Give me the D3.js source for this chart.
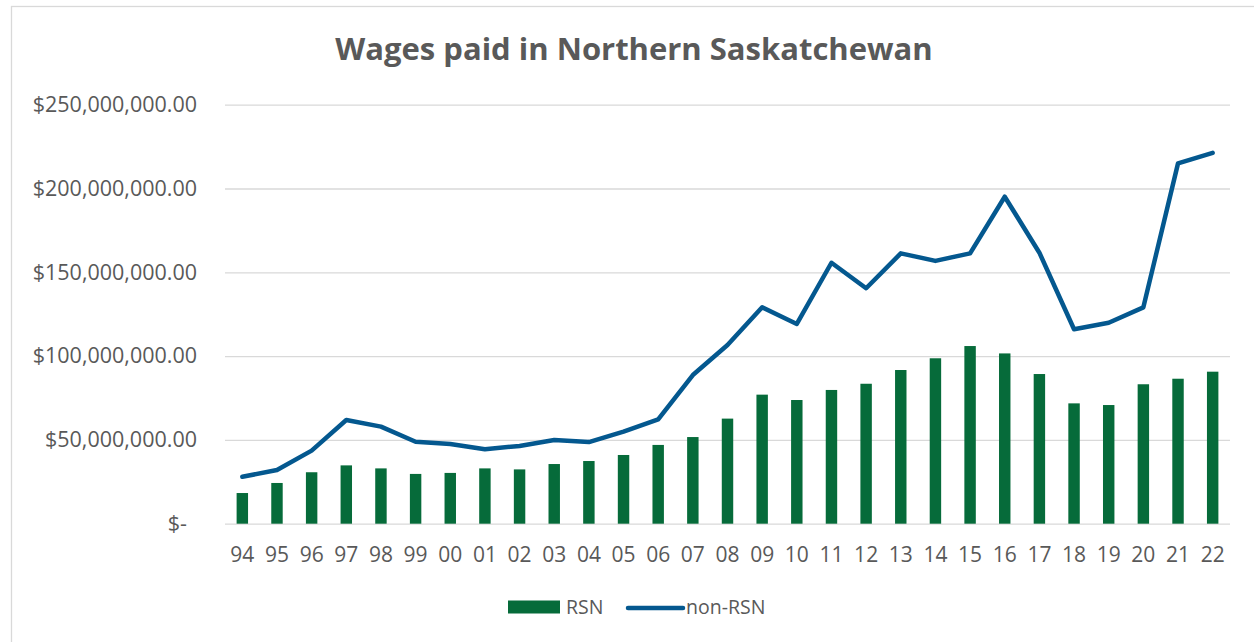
<!DOCTYPE html>
<html>
<head>
<meta charset="utf-8">
<script src="https://cdn.jsdelivr.net/npm/d3@7"></script>
<style>
  body { margin: 0; background: #fff; }
  svg { display: block; }
  text { font-family: "Open Sans", "Noto Sans", sans-serif; fill: #595959; }
</style>
</head>
<body>
<div class="chart"></div>
<script>
// years on the category axis
const years = ["94","95","96","97","98","99","00","01","02","03","04","05","06","07",
    "08","09","10","11","12","13","14","15","16","17","18","19","20","21","22"];

// wages in millions of dollars
const rsn = [18.3, 24.3, 30.7, 34.8, 33.0, 29.7, 30.3, 33.0, 32.4, 35.6, 37.4, 41.0, 47.0, 51.7,
    62.7, 77.0, 73.8, 79.8, 83.5, 91.7, 98.7, 106.0, 101.6, 89.3, 71.8, 70.8, 83.2, 86.5, 90.7];

const nonRsn = [28.0, 32.0, 43.6, 61.9, 57.9, 48.9, 47.5, 44.4, 46.4, 49.9, 48.7, 54.9, 62.3, 88.7,
    106.6, 129.1, 119.2, 155.7, 140.5, 161.3, 156.8, 161.3, 195.1, 161.7, 116.0, 119.9, 129.1, 215.0, 221.3];

const yTicks = [0, 50, 100, 150, 200, 250];

const title = "Wages paid in Northern Saskatchewan";

const W = 1254, H = 642;
const margin = { top: 104.7, right: 24, bottom: 118.3, left: 225 };
const width = W - margin.left - margin.right;
const height = H - margin.top - margin.bottom;

const green = "#066B3A";
const blue = "#04588F";

const svg = d3.select(".chart")
    .append("svg")
    .attr("width", W)
    .attr("height", H);

// outer chart border (cropped at right/bottom)
svg.append("rect")
    .attr("x", 11.5)
    .attr("y", 6.5)
    .attr("width", 1300)
    .attr("height", 700)
    .attr("fill", "none")
    .attr("stroke", "#D9D9D9")
    .attr("stroke-width", 1.3);

svg.append("text")
    .attr("x", 634)
    .attr("y", 60)
    .attr("text-anchor", "middle")
    .style("font-size", "31px")
    .style("font-weight", "bold")
    .text(title);

const g = svg.append("g")
    .attr("transform", `translate(${margin.left},${margin.top})`);

const x = d3.scaleBand()
    .domain(years)
    .range([0, width])
    .paddingInner(0.67)
    .paddingOuter(0.335);

const y = d3.scaleLinear()
    .domain([0, 250])
    .range([height, 0]);

const money = d3.format(",.2f");

const yAxis = g.append("g")
    .call(d3.axisLeft(y)
        .tickValues(yTicks)
        .tickSize(-width)
        .tickPadding(28)
        .tickFormat(d => d === 0 ? "$-" : "$" + money(d * 1e6)));

yAxis.select(".domain").remove();
yAxis.selectAll(".tick line")
    .attr("stroke", "#D9D9D9")
    .attr("stroke-width", 1.3);
yAxis.selectAll(".tick text")
    .style("font-size", "21.5px")
    .attr("fill", "#595959")
    .attr("dx", d => d === 0 ? -10 : 0);

const xAxis = g.append("g")
    .attr("transform", `translate(0,${height})`)
    .call(d3.axisBottom(x).tickSize(0).tickPadding(23));

xAxis.select(".domain").remove();
xAxis.selectAll(".tick text")
    .style("font-size", "21px")
    .attr("fill", "#595959");

g.selectAll("rect.bar")
    .data(years.map((yr, i) => ({ yr, v: rsn[i] })))
    .enter()
    .append("rect")
    .attr("class", "bar")
    .attr("x", d => x(d.yr))
    .attr("y", d => y(d.v))
    .attr("width", x.bandwidth())
    .attr("height", d => height - y(d.v))
    .attr("fill", green);

const line = d3.line()
    .x(d => x(d.yr) + x.bandwidth() / 2)
    .y(d => y(d.v));

g.append("path")
    .datum(years.map((yr, i) => ({ yr, v: nonRsn[i] })))
    .attr("d", line)
    .attr("fill", "none")
    .attr("stroke", blue)
    .attr("stroke-width", 4.5)
    .attr("stroke-linejoin", "round")
    .attr("stroke-linecap", "round");

// legend
const legend = svg.append("g")
    .attr("transform", "translate(508,607)");

legend.append("rect")
    .attr("x", 0)
    .attr("y", -6.5)
    .attr("width", 52)
    .attr("height", 13)
    .attr("fill", green);

legend.append("text")
    .attr("x", 58)
    .attr("y", 0)
    .attr("dy", "0.35em")
    .style("font-size", "19.5px")
    .text("RSN");

legend.append("line")
    .attr("x1", 120)
    .attr("x2", 175)
    .attr("y1", 1)
    .attr("y2", 1)
    .attr("stroke", blue)
    .attr("stroke-width", 4.5)
    .attr("stroke-linecap", "round");

legend.append("text")
    .attr("x", 178)
    .attr("y", 0)
    .attr("dy", "0.35em")
    .style("font-size", "19.5px")
    .text("non-RSN");
</script>
</body>
</html>
